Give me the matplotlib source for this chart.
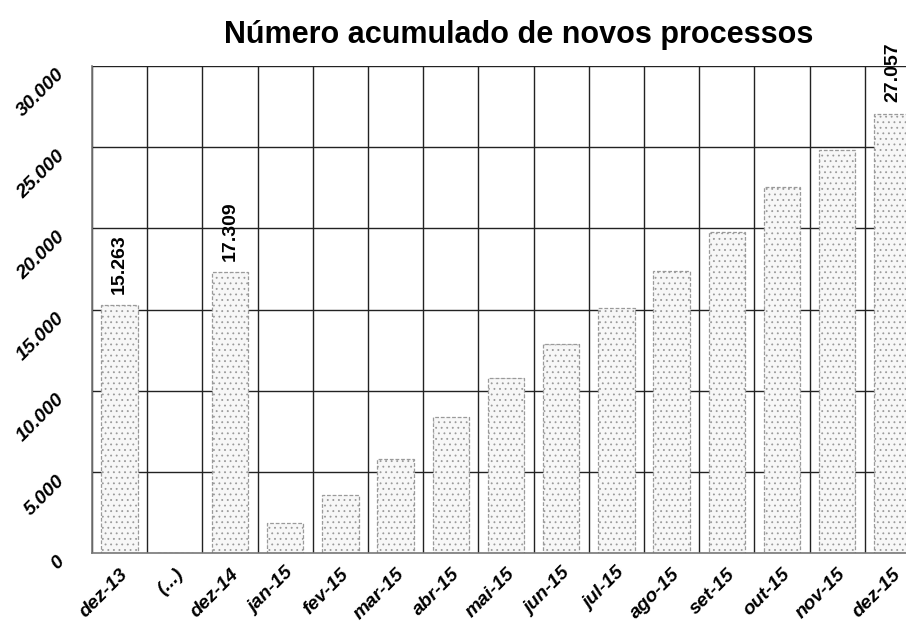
import matplotlib.pyplot as plt
import matplotlib as mpl

# data
meses = ["dez-13", "(...)", "dez-14", "jan-15", "fev-15", "mar-15", "abr-15",
         "mai-15", "jun-15", "jul-15", "ago-15", "set-15", "out-15", "nov-15", "dez-15"]
processos = [15263, 0, 17309, 1830, 3600, 5800, 8400, 10800, 12900,
             15100, 17400, 19750, 22560, 24800, 27057]
rotulados = ["dez-13", "dez-14", "dez-15"]
yticks = [0, 5000, 10000, 15000, 20000, 25000, 30000]

mpl.rcParams['font.family'] = ['Liberation Sans', 'DejaVu Sans']
mpl.rcParams['hatch.color'] = '#b8b8b8'
mpl.rcParams['hatch.linewidth'] = 0.6

fig = plt.figure(figsize=(9.06, 6.28), dpi=100)
# the axes runs past the right edge, like the cropped scan
ax = fig.add_axes([92 / 906, 75 / 628, 828 / 906, 487 / 628])

x = list(range(len(meses)))
ax.bar(x, processos, width=0.66, facecolor='#f7f7f7', edgecolor='#9a9a9a',
       linewidth=0.9, linestyle=(0, (3, 1.5)), hatch='...', zorder=2)

ax.set_xlim(-0.5, len(meses) - 0.5)
ax.set_ylim(0, 30000)

# grid: horizontal every 5000 and vertical between categories
for v in yticks[1:]:
    ax.axhline(v, color='#222222', lw=1.0, zorder=1)
for i in range(len(meses)):
    ax.axvline(i - 0.5, color='#222222', lw=1.0, zorder=1)

for s in ['top', 'right']:
    ax.spines[s].set_visible(False)
for s in ['left', 'bottom']:
    ax.spines[s].set_color('#777777')
    ax.spines[s].set_linewidth(1.2)

ax.set_yticks(yticks)
ax.set_yticklabels([f"{v:,}".replace(",", ".") for v in yticks],
                   rotation=45, ha='right', va='top', rotation_mode='anchor',
                   fontsize=14, fontweight='bold', style='italic')
ax.set_xticks(x)
ax.set_xticklabels(meses, rotation=45, ha='right', rotation_mode='anchor',
                   fontsize=14, fontweight='bold', style='italic')
ax.tick_params(length=0)
ax.tick_params(axis='y', pad=26)
ax.tick_params(axis='x', pad=9)

for i, m in enumerate(meses):
    if m in rotulados:
        ax.text(i, processos[i] + 700, f"{processos[i]:,}".replace(",", "."),
                rotation=90, ha='center', va='bottom', fontsize=14, fontweight='bold')

fig.text(0.572, 0.945, "Número acumulado de novos processos", ha='center', va='center',
         fontsize=22, fontweight='bold')

plt.savefig("out.png", dpi=100)
